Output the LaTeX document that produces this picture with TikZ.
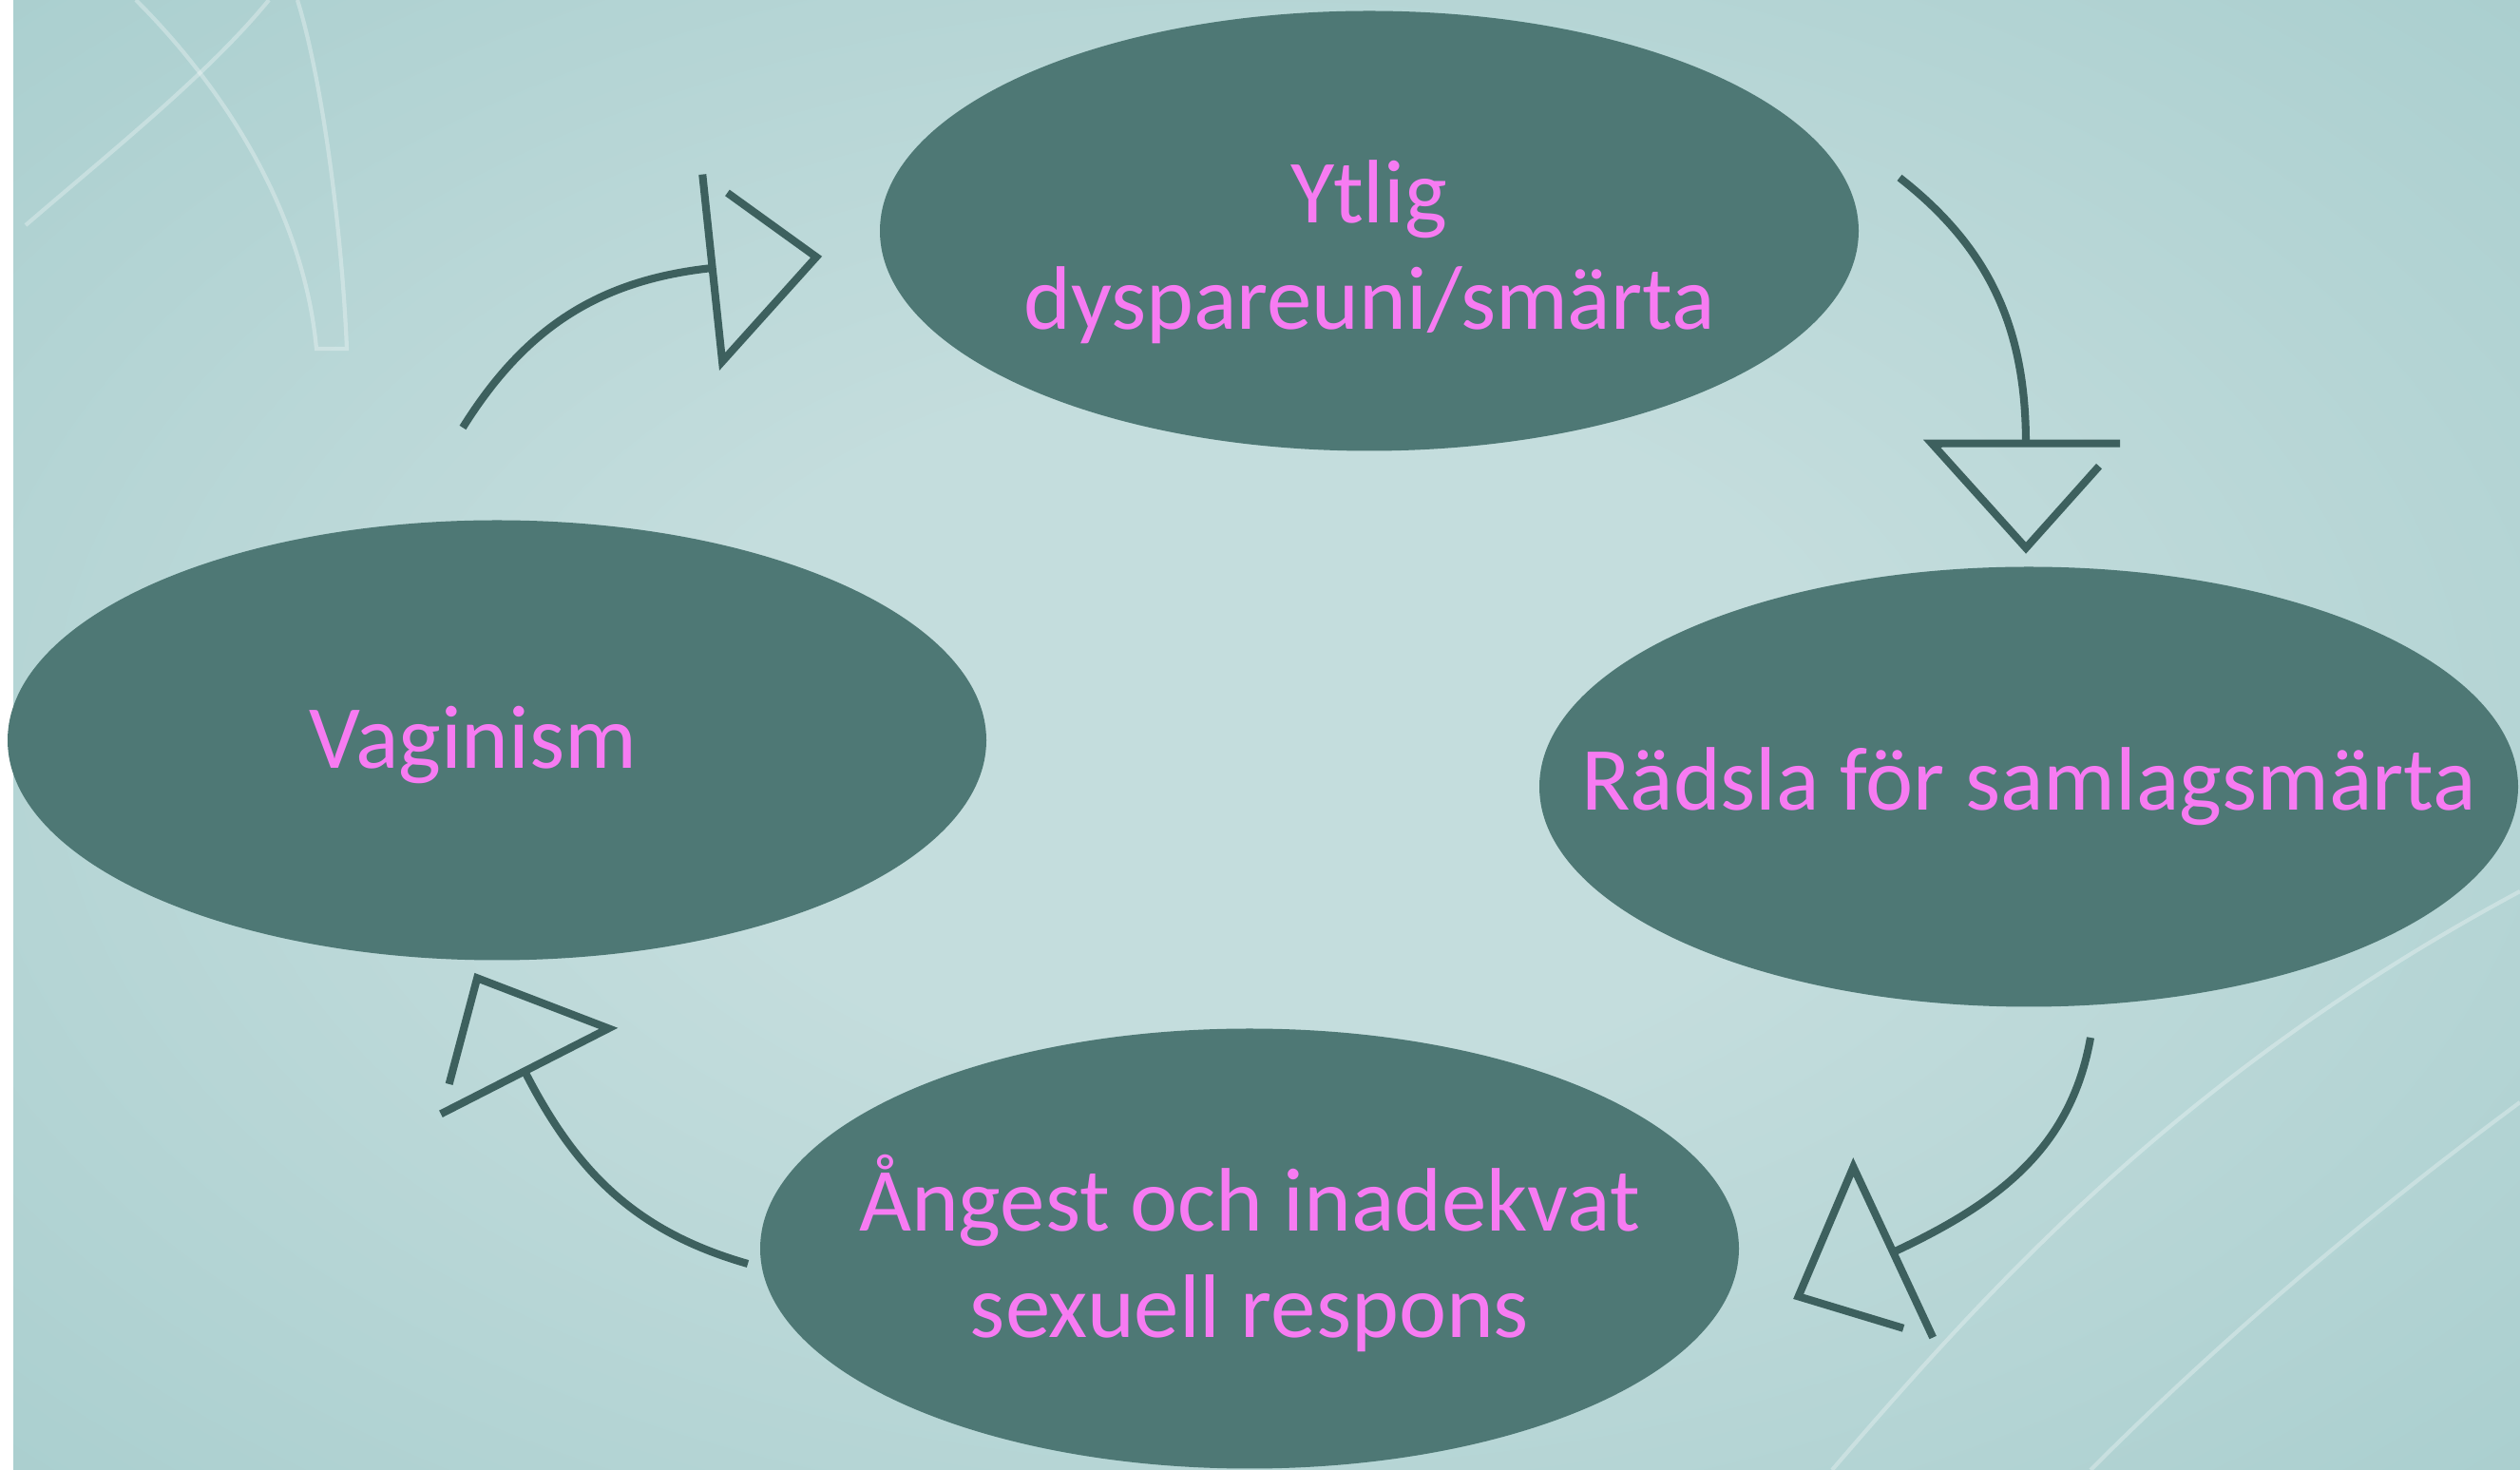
\documentclass[tikz,border=0pt]{standalone}
\usepackage{fontspec}
\setmainfont{Carlito}
\usetikzlibrary{shapes.geometric, decorations.markings}

\definecolor{paperlight}{HTML}{C4DDDD}
\definecolor{papermid}{HTML}{A3CBCB}
\definecolor{paperdark}{HTML}{8BBDBD}
\definecolor{blobfill}{HTML}{4E7875}
\definecolor{arrowcol}{HTML}{3D605E}
\definecolor{pinktext}{HTML}{F77BF2}

\pgfdeclareradialshading{paperglow}{\pgfpoint{0bp}{0bp}}{color(0bp)=(paperlight); color(10bp)=(paperlight); color(36bp)=(papermid); color(60bp)=(paperdark); color(70bp)=(paperdark)}

\begin{document}
\begin{tikzpicture}[
		blob/.style={ellipse,fill=blobfill,minimum width=10.3cm,minimum height=4.63cm,inner sep=0pt},
		blobtext/.style={text=pinktext,font=\fontsize{27}{32}\selectfont,align=center},
		cyclearrow/.style={draw=arrowcol,line width=2.3pt,postaction={decorate},
			decoration={markings,mark=at position 0.999 with {
				\draw[arrowcol,line width=2.3pt] (0,0.99) -- (0,-0.99) -- (1.1,0) -- (0.24,0.77);}}},
		swirl/.style={draw=white,opacity=0.3,line width=1.2pt}
		]
		
		% paper background
		\useasboundingbox (0,0) rectangle (26.52,15.47);
		\begin{scope}
			\clip (0,0) rectangle (26.52,15.47);
			\shade[shading=paperglow] (-2,-1.5) rectangle (28.5,17);
			\draw[swirl] (0.27,13.10) .. controls (1.2,13.9) and (2.2,14.7) .. (2.83,15.47);
			\draw[swirl] (1.43,15.47) .. controls (2.4,14.5) and (3.2,13.2) .. (3.33,11.80)
				-- (3.65,11.80) .. controls (3.6,13.0) and (3.4,14.6) .. (3.13,15.47);
			\draw[swirl] (19.28,0) .. controls (21.0,2.0) and (23.0,4.2) .. (26.52,6.09);
			\draw[swirl] (22.0,0) .. controls (23.3,1.3) and (24.8,2.6) .. (26.52,3.87);
			\fill[white] (0,0) rectangle (0.14,15.47);
		\end{scope}
		
		\node[blob](Ytlig) at (14.41,13.04){};
		\node[blob, below of = Ytlig, xshift = -9.18cm, yshift = -4.36cm](Vagin){};
		\node[blob, below of = Ytlig, xshift = 6.94cm, yshift = -4.85cm](Radsla){};
		\node[blob, below of = Ytlig, xshift = -1.26cm, yshift = -9.71cm](Angest){};
		
		\node[blobtext](YtligT) at ([yshift=-0.22cm]Ytlig.center){Ytlig\\dyspareuni/smärta};
		\node[blobtext](VaginT) at ([xshift=-0.25cm, yshift=-0.05cm]Vagin.center){Vaginism};
		\node[blobtext](RadslaT) at (Radsla.center){Rädsla för samlagsmärta};
		\node[blobtext](AngestT) at ([yshift=-0.05cm]Angest.center){Ångest och inadekvat\\sexuell respons};
		
		% arrows round the circle
		\coordinate (A1s) at (4.87,10.97);
		\coordinate (A1e) at (7.50,12.65);
		\draw[cyclearrow] (A1s) to[out=58, in=186] (A1e);
		\coordinate (A2s) at (19.99,13.60);
		\coordinate (A2e) at (21.32,10.80);
		\draw[cyclearrow] (A2s) to[out=-38, in=90] (A2e);
		\coordinate (A3s) at (22.00,4.55);
		\coordinate (A3e) at (19.92,2.29);
		\draw[cyclearrow] (A3s) to[out=-100, in=25] (A3e);
		\coordinate (A4s) at (7.87,2.17);
		\coordinate (A4e) at (5.52,4.20);
		\draw[cyclearrow] (A4s) to[out=164, in=-63] (A4e);
	\end{tikzpicture}
\end{document}
